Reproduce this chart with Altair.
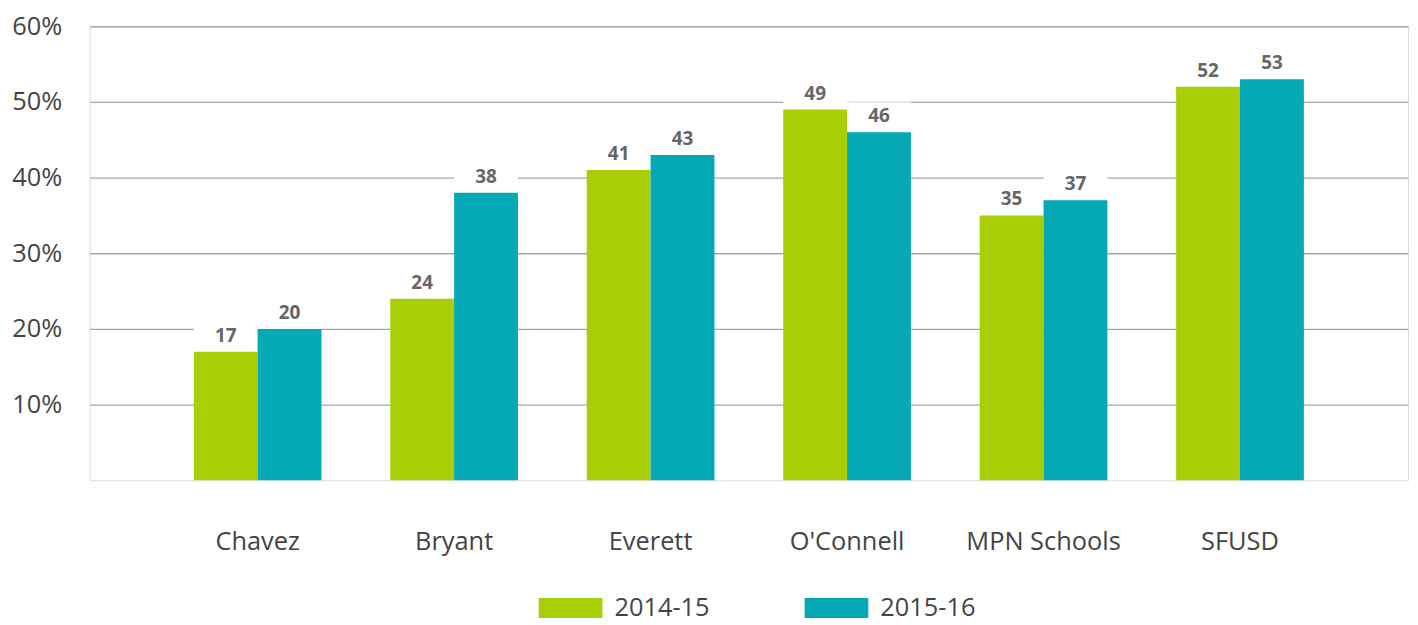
import altair as alt
import pandas as pd

schools = ["Chavez", "Bryant", "Everett", "O'Connell", "MPN Schools", "SFUSD"]
years = ["2014-15", "2015-16"]
vals_2014 = [17, 24, 41, 49, 35, 52]
vals_2015 = [20, 38, 43, 46, 37, 53]
y_ticks = [10, 20, 30, 40, 50, 60]
colors = ["#A8CF05", "#05A8B5"]

rows = []
for s, a, b in zip(schools, vals_2014, vals_2015):
    rows.append({"school": s, "year": years[0], "value": a})
    rows.append({"school": s, "year": years[1], "value": b})
df = pd.DataFrame(rows)

FONT = "Open Sans"

x = alt.X("school:N", sort=schools, title=None,
          scale=alt.Scale(paddingInner=0.35, paddingOuter=0.53),
          axis=alt.Axis(labelFontSize=25.5, labelColor="#444444", labelPadding=50,
                        domain=False, ticks=False, labelAngle=0, labelFont=FONT))
xo = alt.XOffset("year:N", sort=years, scale=alt.Scale(paddingInner=0, paddingOuter=0))
y = alt.Y("value:Q", title=None,
          scale=alt.Scale(domain=[0, 60], nice=False),
          axis=alt.Axis(values=y_ticks, labelExpr="datum.value + '%'",
                        labelFontSize=25.5, labelColor="#444444", labelPadding=28,
                        domain=False, ticks=False, grid=True, gridColor="#A6A6A6",
                        gridWidth=1.3, labelFont=FONT))

base = alt.Chart(df)

bars = base.mark_bar().encode(
    x=x, xOffset=xo, y=y,
    color=alt.Color("year:N", sort=years,
                    scale=alt.Scale(domain=years, range=colors),
                    legend=alt.Legend(title=None, orient="none", legendX=451, legendY=552,
                                      direction="horizontal",
                                      symbolType="M-1,-0.3125L1,-0.3125L1,0.3125L-1,0.3125Z",
                                      symbolSize=4096, symbolStrokeWidth=0,
                                      labelFontSize=25.5, labelColor="#444444",
                                      labelFont=FONT, labelOffset=12,
                                      columnPadding=95, padding=0)),
)

boxes = base.mark_bar(color="white", y2Offset=-30).encode(
    x=x, xOffset=xo, y=y, y2=alt.Y2("value:Q"),
)

labels = base.mark_text(fontWeight="bold", fontSize=19, color="#666666",
                        baseline="alphabetic", dy=-10, font=FONT).encode(
    x=x, xOffset=xo, y=y, text=alt.Text("value:Q"),
)

chart = alt.layer(boxes, bars, labels).properties(
    width=1324, height=456,
    autosize=alt.AutoSizeParams(type="none"),
    padding={"left": 82, "top": 17, "right": 2, "bottom": 144},
).configure_view(
    stroke="#8C8C8C", strokeWidth=1.5
).configure(font=FONT)

chart.save("out.html", embed_options={"renderer": "svg", "actions": False})
